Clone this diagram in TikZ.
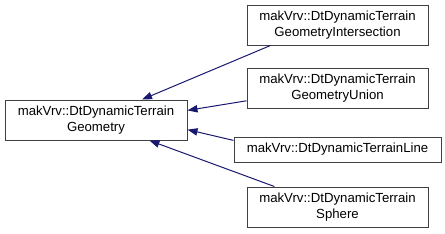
\documentclass[tikz,border=0pt]{standalone}
\usepackage{fontspec}
\setmainfont{Liberation Sans}
\usetikzlibrary{arrows.meta}
\definecolor{edgeblue}{HTML}{191970}

\begin{document}
\begin{tikzpicture}[x=0.75pt, y=-0.75pt, >={Triangle[length=7.5pt, width=5.5pt]}]
            \tikzset{
                cls/.style={draw=black!75, line width=0.75pt, fill=white, align=center,
                    inner sep=0pt, minimum height=30pt, minimum width=135.75pt,
                    font=\fontsize{9.9}{11.5}\selectfont},
                inh/.style={draw=edgeblue, line width=0.75pt, ->}
            }
            \useasboundingbox (0,0) rectangle (445,233);

            \node[cls, minimum width=136.5pt] (base) at (96,120) {makVrv::DtDynamicTerrain\\Geometry};

            \node[cls] (inter) at (337.5,25) {makVrv::DtDynamicTerrain\\GeometryIntersection};
            \node[cls] (union) at (337.5,88) {makVrv::DtDynamicTerrain\\GeometryUnion};
            \node[cls, minimum width=155.25pt, minimum height=18.75pt] (line) at (337.5,149.5) {makVrv::DtDynamicTerrainLine};
            \node[cls] (sphere) at (337.5,207) {makVrv::DtDynamicTerrain\\Sphere};

            \draw[inh] (inter.197.7) -- (base.24.4);
            \draw[inh] (union.188.8) -- (base.6.9);
            \draw[inh] (line.175.3) -- (base.-6.9);
            \draw[inh] (sphere.162.8) -- (base.-21);
        \end{tikzpicture}
\end{document}
